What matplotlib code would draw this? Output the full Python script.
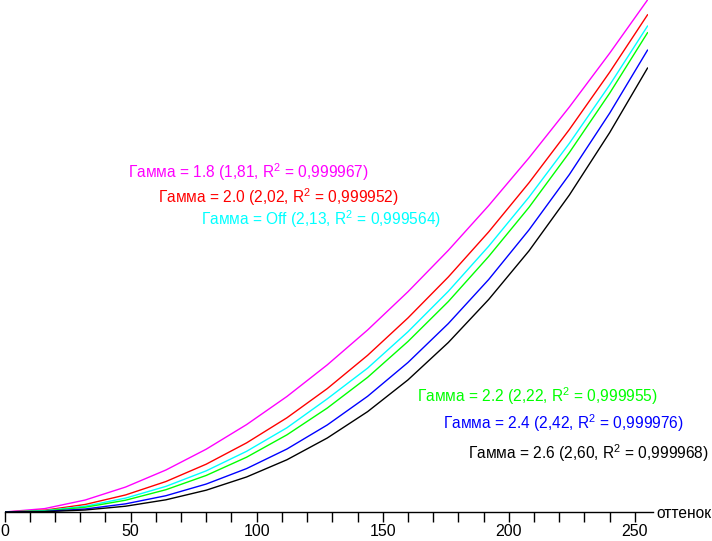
import numpy as np
import matplotlib
matplotlib.use('Agg')
import matplotlib.pyplot as plt

plt.rcParams['font.family'] = ['Liberation Sans', 'DejaVu Sans']
plt.rcParams['mathtext.fontset'] = 'custom'
plt.rcParams['mathtext.rm'] = 'Liberation Sans'

# оттенок (входной уровень)
x = [0, 16, 32, 48, 64, 80, 96, 112, 128, 144, 160, 176, 192, 208, 224, 240, 255]

# относительная яркость
g18 = [0, 0.0067, 0.0234, 0.0487, 0.082, 0.1227, 0.1707, 0.2256, 0.2874, 0.3555,
       0.4302, 0.511, 0.5984, 0.6917, 0.7909, 0.8961, 1.0]
g20 = [0, 0.0036, 0.0147, 0.0333, 0.0595, 0.0934, 0.135, 0.184, 0.241, 0.306,
       0.379, 0.459, 0.547, 0.643, 0.747, 0.859, 0.971]
goff = [0, 0.0026, 0.0114, 0.0271, 0.050, 0.0804, 0.1185, 0.1645, 0.221, 0.281,
        0.352, 0.431, 0.519, 0.615, 0.720, 0.834, 0.949]
g22 = [0, 0.0020, 0.0093, 0.0230, 0.0435, 0.0714, 0.107, 0.1507, 0.203, 0.263,
       0.333, 0.411, 0.499, 0.595, 0.702, 0.818, 0.936]
g24 = [0, 0.0011, 0.0059, 0.0159, 0.0318, 0.0546, 0.0848, 0.123, 0.170, 0.226,
       0.292, 0.368, 0.454, 0.551, 0.659, 0.779, 0.902]
g26 = [0, 0.0006, 0.0039, 0.0113, 0.0238, 0.0426, 0.0684, 0.102, 0.1445, 0.196,
       0.258, 0.331, 0.415, 0.510, 0.619, 0.741, 0.867]

series = [g18, g20, goff, g22, g24, g26]
colors = ['#ff00ff', '#ff0000', '#00ffff', '#00ff00', '#0000ff', '#000000']
labels = [r'Гамма = 1.8 (1,81, R$^\mathregular{2}$ = 0,999967)',
          r'Гамма = 2.0 (2,02, R$^\mathregular{2}$ = 0,999952)',
          r'Гамма = Off (2,13, R$^\mathregular{2}$ = 0,999564)',
          r'Гамма = 2.2 (2,22, R$^\mathregular{2}$ = 0,999955)',
          r'Гамма = 2.4 (2,42, R$^\mathregular{2}$ = 0,999976)',
          r'Гамма = 2.6 (2,60, R$^\mathregular{2}$ = 0,999968)']
label_pos = [(128, 172), (158, 197), (201, 219), (417, 396), (443, 423), (468, 453)]

W, H = 712, 541
fig = plt.figure(figsize=(W / 100, H / 100), dpi=100)
ax = fig.add_axes([4.5 / W, (H - 512) / H, 643 / W, 512 / H])

for ys, c in zip(series, colors):
    ax.plot(x, ys, color=c, lw=1)

ax.set_xlim(0, 255)
ax.set_ylim(0, 1)
for s in ['top', 'right', 'left']:
    ax.spines[s].set_visible(False)
ax.spines['bottom'].set_bounds(0, 257)
ax.spines['bottom'].set_linewidth(1)
ax.set_yticks([])
ax.set_xticks(np.arange(0, 251, 50))
ax.set_xticks(np.arange(0, 256, 10), minor=True)
ax.tick_params(axis='x', which='both', direction='out', length=7, width=1, labelsize=11.5, pad=2)
ax.patch.set_alpha(0)

fig.text(656 / W, 1 - 513 / H, 'оттенок', ha='left', va='center', fontsize=11.2)

for (px, py), t, c in zip(label_pos, labels, colors):
    fig.text(px / W, 1 - py / H, t, color=c, ha='left', va='center', fontsize=11.2)

fig.savefig('out.png', dpi=100)
